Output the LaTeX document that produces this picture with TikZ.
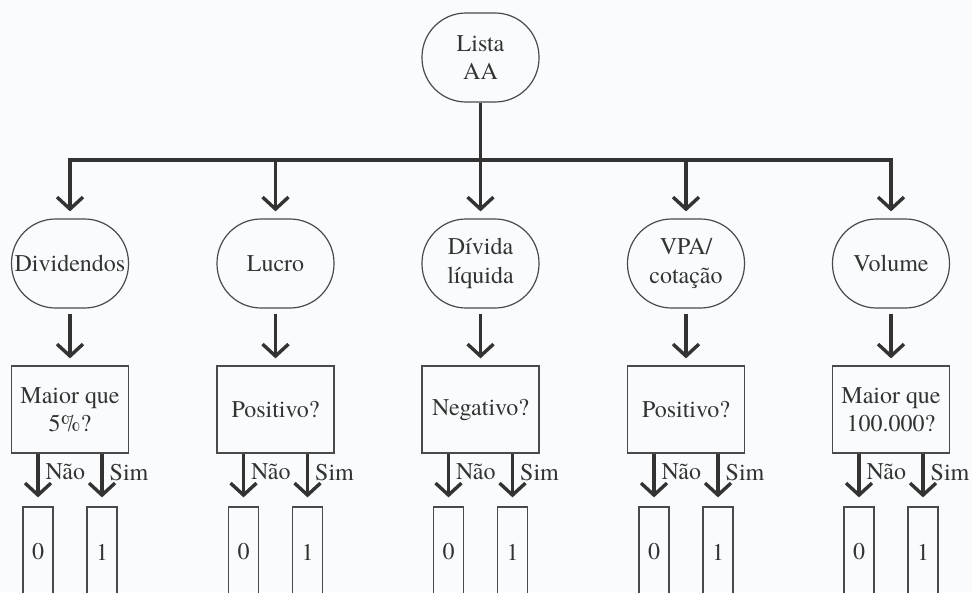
\documentclass[tikz,border=0pt]{standalone}
\usepackage{fontspec}
\setmainfont{texgyretermes}[
  Extension=.otf,
  UprightFont=*-regular,
  BoldFont=*-bold,
  ItalicFont=*-italic,
  BoldItalicFont=*-bolditalic]
\usetikzlibrary{arrows.meta}
\definecolor{ink}{HTML}{333333}
\definecolor{edge}{HTML}{4A4A4A}
\definecolor{paper}{HTML}{F9FBFC}
\begin{document}
\begin{tikzpicture}[x=1pt,y=-1pt,
  every node/.style={font=\fontsize{24}{28.5}\selectfont, text=ink},
  oval/.style={draw=edge, line width=1.2pt, rounded corners=44pt,
    minimum width=117pt, minimum height=89pt, align=center, inner sep=0pt},
  test/.style={draw=edge, line width=1.2pt,
    minimum width=117pt, minimum height=87pt, align=center, inner sep=0pt},
  leaf/.style={draw=edge, line width=1.2pt,
    minimum width=30pt, minimum height=90pt, inner sep=0pt},
  link/.style={draw=ink, line width=3.4pt},
  arr/.style={link, -{Straight Barb[length=12pt,width=26pt]}},
  lab/.style={pos=0.35, right=6pt, inner sep=0pt}
]
\fill[paper] (0,0) rectangle (972,592);
\clip (0,0) rectangle (972,592);

% root and criteria
\node[oval] (root) at (480.5,57.5) {Lista\\AA};
\coordinate (bus) at (480.5,160);

\node[oval] (o1) at (70,263.5)    {Dividendos};
\node[oval] (o2) at (275.5,263.5) {Lucro};
\node[oval] (o3) at (480.5,263.5) {Dívida\\líquida};
\node[oval] (o4) at (686,263.5)   {VPA/\\cotação};
\node[oval] (o5) at (891,263.5)   {Volume};

% tests
\node[test] (q1) at (70,409.5)    {Maior que\\5\%?};
\node[test] (q2) at (275.5,409.5) {Positivo?};
\node[test] (q3) at (480.5,409.5) {Negativo?};
\node[test] (q4) at (686,409.5)   {Positivo?};
\node[test] (q5) at (891,409.5)   {Maior que\\100.000?};

% outcomes
\node[leaf] (z1) at (38,552)    {0};
\node[leaf] (u1) at (102,552)   {1};
\node[leaf] (z2) at (243.5,552) {0};
\node[leaf] (u2) at (307.5,552) {1};
\node[leaf] (z3) at (448.5,552) {0};
\node[leaf] (u3) at (512.5,552) {1};
\node[leaf] (z4) at (654,552)   {0};
\node[leaf] (u4) at (718,552)   {1};
\node[leaf] (z5) at (859,552)   {0};
\node[leaf] (u5) at (923,552)   {1};

% distribution bus
\draw[link] (root) -- (bus);
\draw[arr, shorten >=7pt] (bus) -| (o1);
\draw[arr, shorten >=7pt] (bus) -| (o2);
\draw[arr, shorten >=7pt] (bus) -- (o3);
\draw[arr, shorten >=7pt] (bus) -| (o4);
\draw[arr, shorten >=7pt] (bus) -| (o5);

% criterion to test
\foreach \i in {1,...,5}
  \draw[arr, shorten <=5pt, shorten >=7pt] (o\i) -- (q\i);

% test outcomes
\foreach \i in {1,...,5}{
  \draw[arr, shorten >=9pt] (q\i.south -| z\i) -- (z\i)
    node[lab] (n\i) {Não};
  \draw[arr, shorten >=9pt] (q\i.south -| u\i) -- (u\i)
    node[lab] (s\i) {Sim};
}
\end{tikzpicture}
\end{document}
